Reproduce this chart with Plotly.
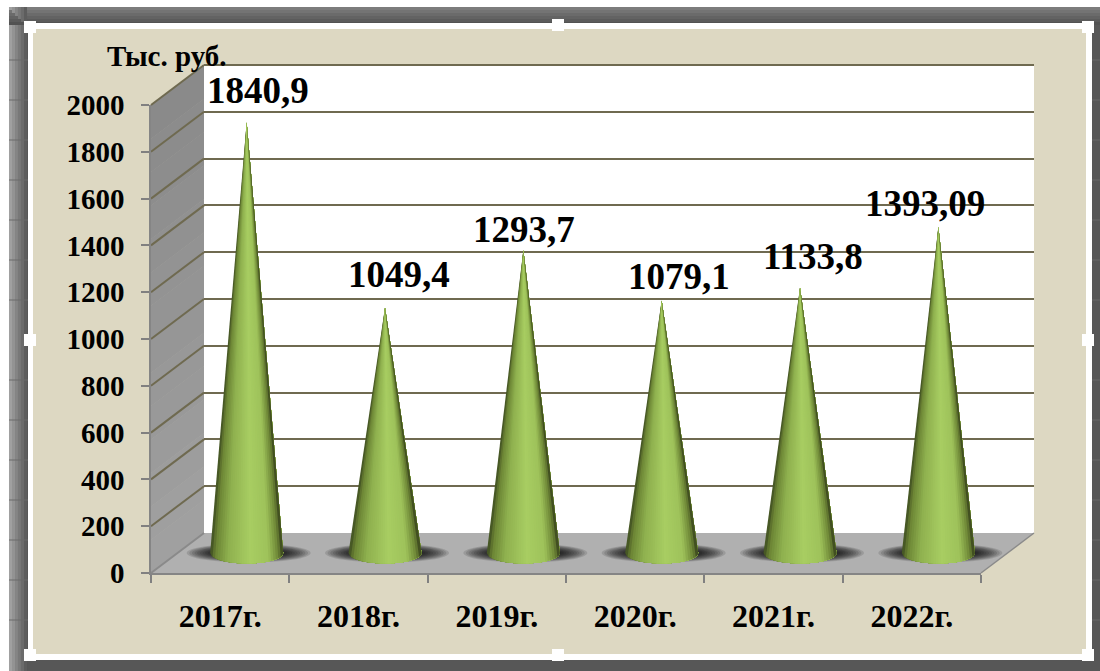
import math
import plotly.graph_objects as go

categories = ["2017г.", "2018г.", "2019г.", "2020г.", "2021г.", "2022г."]
values = [1840.9, 1049.4, 1293.7, 1079.1, 1133.8, 1393.09]
value_labels = ["1840,9", "1049,4", "1293,7", "1079,1", "1133,8", "1393,09"]
y_ticks = [0, 200, 400, 600, 800, 1000, 1200, 1400, 1600, 1800, 2000]

# label offset from the cone tip, px
label_dx = [11, 14, 1, 17, 13, -13]
label_dy = [32, 33, 21, 24, 31, 24]

W, H = 1100, 671
FX0, FX1, FY0, FY1 = 151, 981, 573, 105      # front plane of the 3-D box
DX, DY = 53, -40                             # depth of the box
SERIF = "Liberation Serif"
BEIGE = "#ddd8c2"
GRID = "#6f6a50"
BELOW = 100                                  # room under zero on the cone plane, in value units


def px(x):
    return x / W


def py(y):
    return 1 - y / H


def domains(f):
    return ([px(FX0 + DX * f), px(FX1 + DX * f)],
            [py(FY0 + DY * f), py(FY1 + DY * f)])


def poly(points, fill, line=None, layer="below", width=1):
    path = "M" + "L".join(f"{px(a):.5f},{py(b):.5f}" for a, b in points) + "Z"
    return dict(type="path", xref="paper", yref="paper", path=path, fillcolor=fill,
                line=dict(color=line or fill, width=width if line else 0), layer=layer)


def rect(x0, y0, x1, y1, fill, layer="below"):
    return poly([(x0, y0), (x1, y0), (x1, y1), (x0, y1)], fill, layer=layer)


def mix(c1, c2, t):
    a = [int(c1[i:i + 2], 16) for i in (1, 3, 5)]
    b = [int(c2[i:i + 2], 16) for i in (1, 3, 5)]
    return "#" + "".join(f"{round(p + (q - p) * t):02x}" for p, q in zip(a, b))


shapes = []
# screenshot surroundings
shapes.append(rect(9, 7, W, H, "#575757"))
for i in range(6):
    t = i / 6
    shapes.append(rect(9, 7 + i * 3, W, 10 + i * 3, mix("#7c7c7c", "#4a4a4a", t)))
    shapes.append(rect(9 + i * 3, 7, 12 + i * 3, H, mix("#a0a0a0", "#505050", t)))
for y in (60, 100, 140, 180, 220, 260, 300, 380, 420, 460, 500, 540, 580, 620):
    shapes.append(dict(type="line", xref="paper", yref="paper", x0=px(9), x1=px(28),
                       y0=py(y), y1=py(y), line=dict(color="#6a6a6a", width=1), layer="below"))
    shapes.append(dict(type="line", xref="paper", yref="paper", x0=px(1092), x1=px(1100),
                       y0=py(y), y1=py(y), line=dict(color="#6a6a6a", width=1), layer="below"))
# chart frame
shapes.append(rect(28, 23, 1092, 660, "#ffffff"))
shapes.append(rect(33, 29, 1086, 654, BEIGE))

# back wall
shapes.append(rect(FX0 + DX, FY1 + DY, FX1 + DX, FY0 + DY, "#ffffff"))

# side wall with a soft vertical shade
bands = 14
for i in range(bands):
    a, b = i / bands, (i + 1) / bands
    ya, yb = FY1 + (FY0 - FY1) * a, FY1 + (FY0 - FY1) * b + 0.5
    shapes.append(poly([(FX0, ya), (FX0 + DX, ya + DY), (FX0 + DX, yb + DY), (FX0, yb)],
                       mix("#8a8a8a", "#a2a2a2", a)))

# floor
shapes.append(poly([(FX0, FY0), (FX0 + DX, FY0 + DY), (FX1 + DX, FY0 + DY), (FX1, FY0)],
                   "#b0b0b0"))
shapes.append(dict(type="line", xref="paper", yref="paper", x0=px(FX1), y0=py(FY0),
                   x1=px(FX1 + DX), y1=py(FY0 + DY),
                   line=dict(color="#8a8a8a", width=1.5), layer="below"))

# side wall grid lines, from the axis ticks
for tick in y_ticks:
    y = FY0 + (FY1 - FY0) * tick / y_ticks[-1]
    shapes.append(dict(type="line", xref="paper", yref="paper", x0=px(FX0), y0=py(y),
                       x1=px(FX0 + DX), y1=py(y + DY),
                       line=dict(color=GRID if tick else "#8a8a8a", width=2), layer="below"))
# top grid line on the back wall
shapes.append(dict(type="line", xref="paper", yref="paper", x0=px(FX0 + DX), x1=px(FX1 + DX),
                   y0=py(FY1 + DY), y1=py(FY1 + DY), line=dict(color=GRID, width=2), layer="below"))

# cone shadows, tied to the cone positions
PER_CAT = (FX1 - FX0) / len(categories)
PER_UNIT = (FY0 - FY1) / y_ticks[-1]
for i in range(len(categories)):
    for k in range(12):
        rx = (62 - k * 2.6) / PER_CAT
        ry = (9.5 - k * 0.55) / PER_UNIT
        shapes.append(dict(type="circle", xref="x2", yref="y2", layer="below",
                           x0=i + 2 / PER_CAT - rx, x1=i + 2 / PER_CAT + rx,
                           y0=-ry, y1=ry, fillcolor="#000000", opacity=0.12,
                           line=dict(width=0)))

# selection handles
for cx, cy in [(30, 27), (558, 25), (1088, 27), (30, 340), (1088, 340),
               (30, 655), (558, 655), (1088, 655)]:
    shapes.append(rect(cx - 6, cy - 6, cx + 6, cy + 6, "#ffffff", layer="above"))

fig = go.Figure()

fig.add_trace(go.Scatter(x=categories, y=[None] * 6, xaxis="x", yaxis="y",
                         hoverinfo="skip", showlegend=False))

# cones, drawn as shaded strips that meet at the tip; each strip runs on under the next
stops = [(-1.0, "#3c4a20"), (-0.86, "#6b8434"), (-0.5, "#8fb14f"), (0.1, "#a8cd62"),
         (0.6, "#9ec25a"), (0.88, "#6a8234"), (1.0, "#333d1a")]


def shade(u):
    for (a, ca), (b, cb) in zip(stops, stops[1:]):
        if u <= b:
            return mix(ca, cb, (u - a) / (b - a))
    return stops[-1][1]


HALF = 36.5 / PER_CAT
RY = 10.5 / PER_UNIT
STRIPS = 30
for i, val in enumerate(values):
    for s in range(STRIPS):
        u0 = -1 + 2 * s / STRIPS
        u1 = 1
        us = [u0 + (u1 - u0) * t / 48 for t in range(49)]
        xs = [i] + [i + u * HALF for u in us] + [i]
        ys = [val] + [-RY * math.sqrt(max(0, 1 - u * u)) for u in us] + [val]
        fig.add_trace(go.Scatter(x=xs, y=ys, xaxis="x2", yaxis="y2", mode="none", fill="toself",
                                 fillcolor=shade(u0 + 1 / STRIPS),
                                 hoverinfo="skip", showlegend=False))

fig.add_trace(go.Scatter(x=categories, y=[None] * 6, xaxis="x3", yaxis="y3",
                         hoverinfo="skip", showlegend=False))

annotations = [
    dict(x=i, y=val, xref="x2", yref="y2", text=f"<b>{lab}</b>", showarrow=False,
         xshift=label_dx[i], yshift=label_dy[i], xanchor="center", yanchor="middle",
         font=dict(family=SERIF, size=37, color="#000000"))
    for i, (val, lab) in enumerate(zip(values, value_labels))
]
annotations.append(dict(x=px(167), y=py(56), xref="paper", yref="paper", text="<b>Тыс. руб.</b>",
                        showarrow=False, xanchor="center", yanchor="middle",
                        font=dict(family=SERIF, size=29, color="#000000")))

bx, by = domains(1)
mx, my = domains(0.5)
my = [my[0] - (BELOW * PER_UNIT) / H, my[1]]
fx, fy = domains(0)
hidden = dict(showgrid=False, showticklabels=False, ticks="", zeroline=False, showline=False)
fig.update_layout(
    width=W, height=H, autosize=False,
    margin=dict(l=0, r=0, t=0, b=0, pad=0, autoexpand=False),
    paper_bgcolor="#ffffff", plot_bgcolor="rgba(0,0,0,0)", showlegend=False,
    shapes=shapes, annotations=annotations,
    # back plane: grid lines
    xaxis=dict(domain=bx, range=[-0.5, 5.5], anchor="y", type="linear", **hidden),
    yaxis=dict(domain=by, range=[0, 2000], anchor="x", tickvals=y_ticks, showgrid=True,
               gridcolor=GRID, gridwidth=2, showticklabels=False, ticks="", zeroline=False),
    # middle plane: cones
    xaxis2=dict(domain=mx, range=[-0.5, 5.5], anchor="y2", **hidden),
    yaxis2=dict(domain=my, range=[-BELOW, 2000], anchor="x2", **hidden),
    # front plane: axes and labels
    xaxis3=dict(domain=fx, type="category", categoryorder="array", categoryarray=categories,
                range=[-0.5, 5.5], anchor="y3", tickson="boundaries", ticks="outside", ticklen=8,
                tickcolor="#808080", tickwidth=1.5, showline=True, linecolor="#858585", linewidth=2,
                showgrid=False, ticklabelstandoff=14,
                tickfont=dict(family=SERIF, size=32, color="#000000", weight=700)),
    yaxis3=dict(domain=fy, range=[0, 2000], anchor="x3", tickvals=y_ticks, ticks="outside",
                ticklen=8, tickcolor="#808080", tickwidth=1.5, showline=True, linecolor="#858585",
                linewidth=1.5, showgrid=False, zeroline=False, ticklabelstandoff=11,
                tickfont=dict(family=SERIF, size=29, color="#000000", weight=700)),
)

fig.write_html("out.html", config=dict(displayModeBar=False),
               post_script="document.body.style.margin='0';")
